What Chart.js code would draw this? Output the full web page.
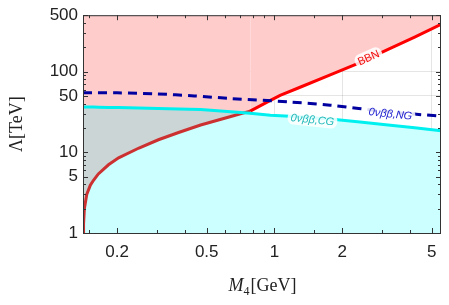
<!DOCTYPE html>
<html>
<head>
<meta charset="utf-8">
<script src="https://cdn.jsdelivr.net/npm/chart.js@4.4.1/dist/chart.umd.min.js"></script>
<style>
  html, body { margin: 0; padding: 0; background: #fff; }
  #wrap { width: 449px; height: 305px; }
</style>
</head>
<body>
<div id="wrap"><canvas id="chart"></canvas></div>
<script>
// shared mass grid (GeV) for the two filled bounds
const massGrid = [0.141, 0.1418, 0.143, 0.1465, 0.152, 0.157, 0.165, 0.183, 0.203, 0.25, 0.305, 0.375, 0.47, 0.64, 0.78, 0.96, 1.06, 1.3, 1.77, 2.4, 3.2, 4.2, 5.5];
// BBN bound on Lambda (TeV)
const bbnLimit = [1, 1.3, 2.0, 3.0, 3.9, 4.5, 5.4, 7.0, 8.55, 11.3, 14.3, 17.6, 21.8, 27.8, 32.4, 44, 50.8, 64, 91, 129, 188, 268, 385];
// 0vbb, CG bound
const cgLimit = [36.4, 36.4, 36.4, 36.4, 36.3, 36.3, 36.2, 36, 35.8, 35.3, 34.9, 34.4, 33.9, 31.8, 30.5, 28.8, 28.3, 27.6, 25.9, 23.8, 21.8, 20.2, 18.5];
// 0vbb, NG bound (dashed)
const ngMass = [0.141, 0.2, 0.3, 0.44, 0.64, 1.18, 1.77, 3.17, 5.5];
const ngLimit = [54.6, 54.6, 53, 50, 46.4, 42, 38.4, 31.8, 28];

const xTickValues = [0.2, 0.5, 1, 2, 5];
const xMinorTicks = [0.15, 0.3, 0.4, 0.6, 0.7, 0.8, 0.9, 1.5, 3, 4];
const yTickValues = [1, 5, 10, 50, 100, 500];
const yMinorTicks = [2, 3, 4, 6, 7, 8, 9, 20, 30, 40, 60, 70, 80, 90, 200, 300, 400];

const curveNames = ["BBN", "0\u03BD\u03B2\u03B2,NG", "0\u03BD\u03B2\u03B2,CG"];

function toPoints(xs, ys) {
    return xs.map((x, i) => ({ x: x, y: ys[i] }));
}

// frame, inward ticks, axis titles
const framePlugin = {
    id: "frame",
    afterDatasetsDraw(chart) {
        const ctx = chart.ctx;
        const xs = chart.scales.x, ys = chart.scales.y;
        // curve labels
        const tags = [
            { text: curveNames[0], x: 2.62, y: 149, angle: -24, color: "#f01010", font: "11px 'Liberation Sans'" },
            { text: curveNames[1], x: 3.28, y: 30, angle: 6, color: "#2020d0", font: "italic 11px 'Liberation Sans'" },
            { text: curveNames[2], x: 1.476, y: 25.4, angle: 6, color: "#20b8b8", font: "italic 11px 'Liberation Sans'" }
        ];
        tags.forEach(t => {
            const px = xs.getPixelForValue(t.x), py = ys.getPixelForValue(t.y);
            ctx.save();
            ctx.translate(px, py);
            ctx.rotate(t.angle * Math.PI / 180);
            ctx.font = t.font;
            const w = ctx.measureText(t.text).width;
            ctx.fillStyle = "rgba(255,255,255,0.85)";
            ctx.beginPath();
            ctx.roundRect(-w / 2 - 3, -7, w + 6, 14, 6);
            ctx.fill();
            ctx.fillStyle = t.color;
            ctx.textAlign = "center";
            ctx.textBaseline = "middle";
            ctx.fillText(t.text, 0, 0.5);
            ctx.restore();
        });
    },
    afterDraw(chart) {
        const ctx = chart.ctx;
        const a = chart.chartArea;
        const xs = chart.scales.x, ys = chart.scales.y;
        ctx.save();
        ctx.strokeStyle = "#333";
        ctx.lineWidth = 1;
        ctx.strokeRect(a.left + 0.5, a.top + 0.5, a.right - a.left - 1, a.bottom - a.top);
        ctx.beginPath();
        const xMark = (v, len) => {
            const p = Math.round(xs.getPixelForValue(v)) + 0.5;
            ctx.moveTo(p, a.bottom); ctx.lineTo(p, a.bottom - len);
            ctx.moveTo(p, a.top); ctx.lineTo(p, a.top + len);
        };
        const yMark = (v, len) => {
            const p = Math.round(ys.getPixelForValue(v)) + 0.5;
            ctx.moveTo(a.left, p); ctx.lineTo(a.left + len, p);
            ctx.moveTo(a.right, p); ctx.lineTo(a.right - len, p);
        };
        xTickValues.forEach(v => xMark(v, 5));
        xMinorTicks.forEach(v => xMark(v, 3));
        yTickValues.forEach(v => yMark(v, 5));
        yMinorTicks.forEach(v => yMark(v, 3));
        ctx.stroke();

        // axis titles
        ctx.fillStyle = "#222";
        ctx.textBaseline = "alphabetic";
        ctx.textAlign = "left";
        const f1 = "italic 18px 'Liberation Serif'", f2 = "12px 'Liberation Serif'", f3 = "18px 'Liberation Serif'";
        ctx.font = f1; const wM = ctx.measureText("M").width;
        ctx.font = f2; const w4 = ctx.measureText("4").width;
        ctx.font = f3; const wG = ctx.measureText("[GeV]").width;
        let x0 = (a.left + a.right) / 2 - (wM + w4 + wG) / 2;
        const by = 291;
        ctx.font = f1; ctx.fillText("M", x0, by);
        ctx.font = f2; ctx.fillText("4", x0 + wM, by + 4);
        ctx.font = f3; ctx.fillText("[GeV]", x0 + wM + w4 + 1, by);

        ctx.translate(22, (a.top + a.bottom) / 2);
        ctx.rotate(-Math.PI / 2);
        ctx.textAlign = "center";
        ctx.font = f3;
        ctx.fillText("\u039B[TeV]", 0, 0);
        ctx.restore();
    }
};

new Chart(document.getElementById("chart"), {
    type: "scatter",
    data: {
        datasets: [
            {
                // overlap of the two excluded regions
                data: toPoints(massGrid, cgLimit),
                showLine: true,
                borderWidth: 0,
                pointRadius: 0,
                fill: { target: 3, above: "#cbd5d5", below: "rgba(0,0,0,0)" }
            },
            {
                label: curveNames[1],
                data: toPoints(ngMass, ngLimit),
                showLine: true,
                borderColor: "#0000a0",
                borderWidth: 3,
                borderDash: [9, 6],
                pointRadius: 0,
                tension: 0.3,
                fill: false
            },
            {
                label: curveNames[2],
                data: toPoints(massGrid, cgLimit),
                showLine: true,
                borderColor: "#00f0f0",
                borderWidth: 3,
                pointRadius: 0,
                fill: { target: "start", above: "#ccffff", below: "#ccffff" }
            },
            {
                label: curveNames[0],
                data: toPoints(massGrid, bbnLimit),
                showLine: true,
                borderColor: "#ff0000",
                borderWidth: 3,
                pointRadius: 0,
                tension: 0,
                segment: {
                    borderColor: ctx => ctx.p1.parsed.x <= 0.78 ? "#cc3030" : "#ff0000"
                },
                fill: { target: "end", above: "#ffcccc", below: "#ffcccc" }
            }
        ]
    },
    options: {
        responsive: true,
        maintainAspectRatio: false,
        animation: false,
        layout: { padding: { top: 12, right: 8, left: 0, bottom: 0 } },
        plugins: {
            legend: { display: false },
            tooltip: { enabled: false },
            filler: { drawTime: "beforeDatasetsDraw" }
        },
        scales: {
            x: {
                type: "logarithmic",
                min: 0.141,
                max: 5.5,
                afterBuildTicks: scale => { scale.ticks = xTickValues.map(v => ({ value: v })); },
                afterFit: scale => { scale.height = 72; },
                ticks: {
                    color: "#222",
                    font: { family: "'Liberation Sans'", size: 17 },
                    padding: 9,
                    maxRotation: 0,
                    callback: v => String(v)
                },
                grid: { color: "rgba(0,0,0,0.1)", drawTicks: false },
                border: { display: false }
            },
            y: {
                type: "logarithmic",
                min: 1,
                max: 500,
                afterBuildTicks: scale => { scale.ticks = yTickValues.map(v => ({ value: v })); },
                afterFit: scale => { scale.width = 83; },
                ticks: {
                    color: "#222",
                    font: { family: "'Liberation Sans'", size: 17 },
                    padding: 5,
                    callback: v => String(v)
                },
                grid: { color: "rgba(0,0,0,0.1)", drawTicks: false },
                border: { display: false }
            }
        }
    },
    plugins: [framePlugin]
});
</script>
</body>
</html>
